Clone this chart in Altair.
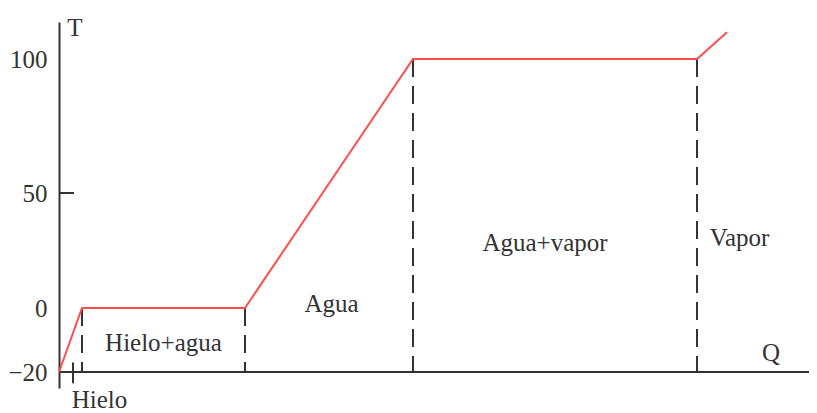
import altair as alt
import pandas as pd

# Heating curve of water (Q in arbitrary units, T in degrees C)
curve_q = [0, 23, 186, 354, 638, 668]
curve_t = [-20, 0, 0, 100, 100, 110]

# Dashed phase-boundary lines
dash_q = [23, 186, 354, 638]
dash_top = [0, 0, 100, 100]
dash_bottom = [-20, -20, -20, -20]

# Region labels
label_text = ["Hielo+agua", "Agua", "Agua+vapor", "Vapor", "Hielo", "T", "Q"]
label_q = [104.5, 272.5, 486, 680.5, 40.5, 16, 712]
label_t = [-10.9, 1.8, 28.3, 30.5, -28.6, 111.6, -14.2]

y_ticks = [-20, 0, 50, 100]

Q_MAX = 750
FONT = "Liberation Serif"
INK = "#333333"

curve = pd.DataFrame({"Q": curve_q, "T": curve_t})
dashes = pd.DataFrame({"Q": dash_q, "top": dash_top, "bottom": dash_bottom})
labels = pd.DataFrame({"text": label_text, "Q": label_q, "T": label_t})
xaxis = pd.DataFrame({"Q": [0], "Q2": [Q_MAX], "T": [-20]})
tick50 = pd.DataFrame({"Q": [0], "Q2": [15], "T": [50]})
hielo_tick = pd.DataFrame({"Q": [14], "T": [-17], "T2": [-23.5]})

xscale = alt.Scale(domain=[0, Q_MAX], nice=False, zero=False)
yscale = alt.Scale(
    domain=[-25, -20, 0, 50, 100, 113.8],
    range=[366, 350, 286, 171, 37, 0],
    nice=False,
    zero=False,
)
yaxis = alt.Axis(
    values=y_ticks,
    title=None,
    grid=False,
    ticks=False,
    tickSize=0,
    labelFont=FONT,
    labelFontSize=25,
    labelColor=INK,
    labelPadding=12,
    domainColor=INK,
    domainWidth=2,
)

X = lambda f: alt.X(f"{f}:Q", scale=xscale, axis=None)
Y = lambda f: alt.Y(f"{f}:Q", scale=yscale, axis=yaxis)

base_axis = alt.Chart(xaxis).mark_rule(color=INK, strokeWidth=2).encode(
    x=X("Q"), x2="Q2", y=Y("T")
)

tick_layer = alt.Chart(tick50).mark_rule(color=INK, strokeWidth=2).encode(
    x=X("Q"), x2="Q2", y=Y("T")
)

hielo_layer = alt.Chart(hielo_tick).mark_rule(color=INK, strokeWidth=2).encode(
    x=X("Q"), y=Y("T"), y2="T2"
)

dash_layer = alt.Chart(dashes).mark_rule(
    color=INK, strokeWidth=2, strokeDash=[18, 9]
).encode(x=X("Q"), y=Y("top"), y2="bottom")

line_layer = alt.Chart(curve).mark_line(color="#ff4d4d", strokeWidth=2).encode(
    x=X("Q"), y=Y("T"), order=alt.Order("Q:Q")
)

text_layer = alt.Chart(labels).mark_text(
    font=FONT, fontSize=25, color=INK, align="center", baseline="middle"
).encode(x=X("Q"), y=Y("T"), text="text:N")

chart = (
    alt.layer(base_axis, tick_layer, hielo_layer, dash_layer, line_layer, text_layer)
    .properties(
        width=750,
        height=366,
        autosize=alt.AutoSizeParams(type="none"),
        padding={"left": 51, "top": 14, "right": 0, "bottom": 25},
        background="white",
    )
    .configure_view(stroke=None)
)

chart.save("out.html", embed_options={"renderer": "svg", "actions": False})
